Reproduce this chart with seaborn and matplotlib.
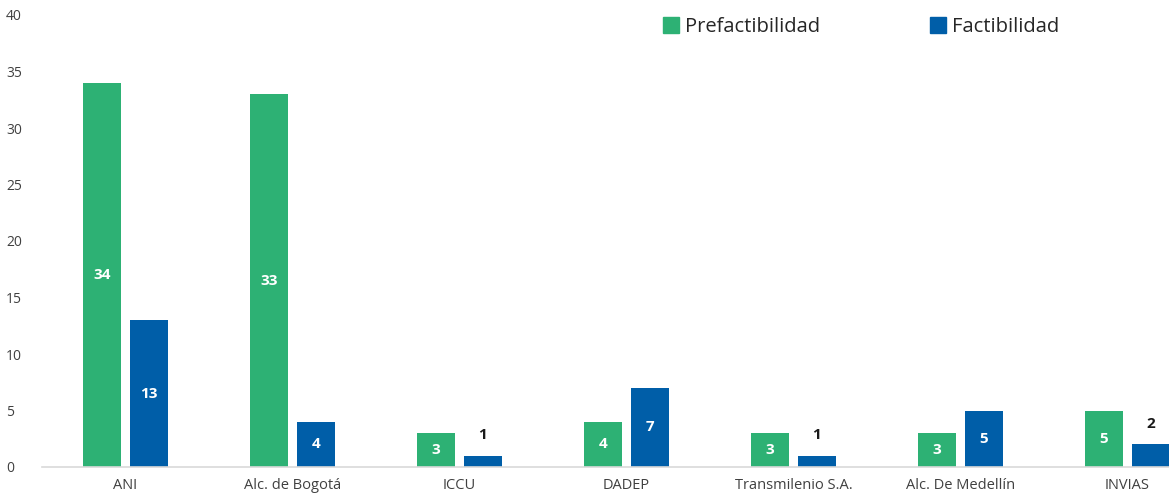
import matplotlib
matplotlib.use("Agg")
import matplotlib.pyplot as plt
import seaborn as sns
import pandas as pd
from matplotlib.lines import Line2D

categories = ["ANI", "Alc. de Bogotá", "ICCU", "DADEP", "Transmilenio S.A.",
              "Alc. De Medellín", "INVIAS"]
prefactibilidad = [34, 33, 3, 4, 3, 3, 5]
factibilidad = [13, 4, 1, 7, 1, 5, 2]
series = ["Prefactibilidad", "Factibilidad"]
colors = ["#2DB174", "#005EA8"]

df = pd.DataFrame({
    "cat": categories * 2,
    "val": prefactibilidad + factibilidad,
    "serie": [series[0]] * len(categories) + [series[1]] * len(categories),
})

sns.set_theme(style="white")
plt.rcParams["font.family"] = ["Open Sans", "DejaVu Sans"]

fig = plt.figure(figsize=(11.69, 5.04), dpi=100)
ax = fig.add_axes([42 / 1169, 37 / 504, (7 * 167) / 1169, 452 / 504])

sns.barplot(data=df, x="cat", y="val", hue="serie", palette=colors,
            width=0.56, gap=0.18, dodge=True, ax=ax, legend=False,
            saturation=1, errorbar=None, edgecolor="none", linewidth=0)

ax.set_xlim(-0.5, 6.5)
ax.set_ylim(0, 40)
ax.set_yticks(range(0, 41, 5))
ax.set_xlabel("")
ax.set_ylabel("")
for s in ["top", "right", "left"]:
    ax.spines[s].set_visible(False)
ax.spines["bottom"].set_color("#D9D9D9")
ax.spines["bottom"].set_linewidth(1.2)
ax.tick_params(axis="both", length=0, colors="#404040", labelsize=10.5)
ax.tick_params(axis="y", pad=26, labelsize=10)
ax.tick_params(axis="x", pad=8)
for lab in ax.get_yticklabels():
    lab.set_horizontalalignment("left")

for cont in ax.containers:
    for bar in cont:
        h = bar.get_height()
        xc = bar.get_x() + bar.get_width() / 2
        if h >= 3:
            ax.text(xc, h / 2, f"{int(h)}", ha="center", va="center",
                    color="white", fontsize=11, fontweight="bold")
        else:
            ax.text(xc, h + 1.2, f"{int(h)}", ha="center", va="bottom",
                    color="#1A1A1A", fontsize=11, fontweight="bold")

handles = [Line2D([0], [0], marker="s", linestyle="", markersize=11,
                  markerfacecolor=c, markeredgecolor=c) for c in colors]
fig.legend(handles, series, loc="center left", bbox_to_anchor=(645 / 1169, 1 - 27 / 504),
           ncol=2, frameon=False, fontsize=14.5, handletextpad=0.3,
           handlelength=0.8, columnspacing=5.45, labelcolor="#262626")

fig.savefig("out.png", dpi=100)
